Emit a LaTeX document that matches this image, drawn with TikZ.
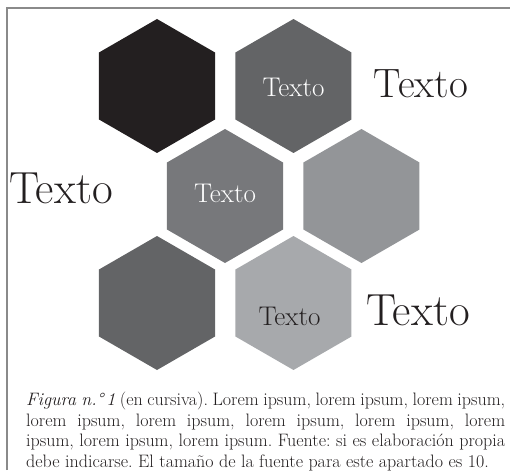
\documentclass[tikz,border=0pt]{standalone}
\usepackage{fontspec}
\usetikzlibrary{
    positioning,
    shapes.geometric
}
\definecolor{HexBlack}{RGB}{35,31,32}
\definecolor{HexDark}{RGB}{99,100,102}
\definecolor{HexMid}{RGB}{119,120,123}
\definecolor{HexLight}{RGB}{147,149,152}
\definecolor{HexPale}{RGB}{167,169,172}
\definecolor{FrameGray}{RGB}{138,138,138}

\begin{document}
\begin{tikzpicture}[
    x=1pt,
    y=-1pt,
    node distance=20pt,
    hexagon/.style={
        regular polygon,
        regular polygon sides=6,
        shape border rotate=90,
        minimum size=134pt,
        inner sep=0pt
    },
    smalltext/.style={
        anchor=base,
        inner sep=0pt,
        font=\fontsize{27}{30}\selectfont
    },
    bigtext/.style={
        anchor=base,
        inner sep=0pt,
        text=HexBlack,
        font=\fontsize{45}{50}\selectfont
    }
]

\useasboundingbox (0,0) rectangle (510,470);

% frame
\draw[FrameGray, line width=2pt] (6.5,470) -- (6.5,8.5) -- (510,8.5);

% top row
\node[
    hexagon,
    fill=HexBlack
] (hexA) at (157,86) {};

\node[
    hexagon,
    fill=HexDark,
    right=of hexA
] (hexB) {};

% middle row
\node[
    hexagon,
    fill=HexMid
] (hexC) at (225,196) {};

\node[
    hexagon,
    fill=HexLight,
    right=of hexC
] (hexD) {};

% bottom row
\node[
    hexagon,
    fill=HexDark
] (hexE) at (157,303) {};

\node[
    hexagon,
    fill=HexPale,
    right=of hexE
] (hexF) {};

% texts
\node[smalltext, text=white] (textB) at ([yshift=-11pt]hexB.center) {Texto};
\node[smalltext, text=white] (textC) at ([yshift=-6pt]hexC.center) {Texto};
\node[smalltext, text=HexBlack] (textF) at ([xshift=-4pt, yshift=-22pt]hexF.center) {Texto};

\node[bigtext, font=\fontsize{41}{46}\selectfont] (labelB) at (421,98) {Texto};
\node[bigtext] (labelC) at (61,203) {Texto};
\node[bigtext] (labelF) at (418,325) {Texto};

% caption
\node[
    anchor=north west,
    inner sep=0pt,
    text width=479pt,
    align=justify,
    text=HexBlack,
    font=\fontsize{18}{20.6}\selectfont\frenchspacing
] (caption) at (26,392) {\textit{Figura n.°\,1} (en cursiva). Lorem ipsum, lorem ipsum, lorem ipsum,\linebreak
lorem ipsum, lorem ipsum, lorem ipsum, lorem ipsum, lorem\linebreak
ipsum, lorem ipsum, lorem ipsum. Fuente: si es elaboración propia\linebreak
debe indicarse. El tamaño de la fuente para este apartado es 10.};

\end{tikzpicture}
\end{document}
